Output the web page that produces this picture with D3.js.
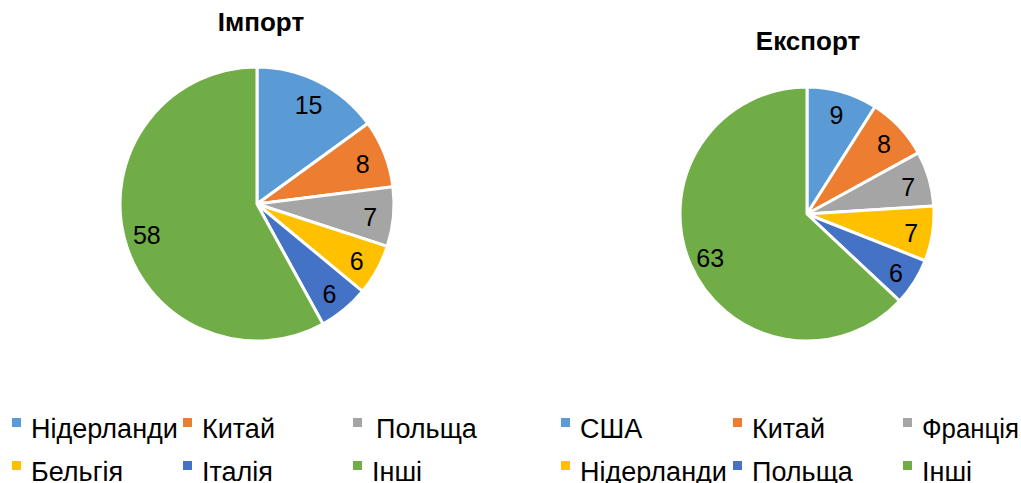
<!DOCTYPE html>
<html>
<head>
<meta charset="utf-8">
<script src="https://cdn.jsdelivr.net/npm/d3@7"></script>
<style>
  body { margin: 0; background: #fff; }
  svg text { font-family: "Liberation Sans", Arial, sans-serif; fill: #000; }
</style>
</head>
<body>
<svg width="1021" height="483"></svg>
<script>
// дані
var importNames = ["Нідерланди", "Китай", "Польща", "Бельгія", "Італія", "Інші"];
var importValues = [15, 8, 7, 6, 6, 58];
var exportNames = ["США", "Китай", "Франція", "Нідерланди", "Польща", "Інші"];
var exportValues = [9, 8, 7, 7, 6, 63];

var colors = ["#5B9BD5", "#ED7D31", "#A5A5A5", "#FFC000", "#4472C4", "#70AD47"];

var svg = d3.select("svg");

function drawPie(title, names, values, cx, cy, r, titleX, titleY, legendX, legendCols) {
    var g = svg.append("g").attr("transform", "translate(" + cx + "," + cy + ")");

    var pie = d3.pie().sort(null).value(function(d) { return d; });
    var arc = d3.arc().innerRadius(0).outerRadius(r);
    var labelArc = d3.arc().innerRadius(r * 0.83).outerRadius(r * 0.83);

    var arcs = pie(values);

    g.selectAll("path")
        .data(arcs)
        .enter().append("path")
        .attr("d", arc)
        .attr("fill", function(d, i) { return colors[i]; })
        .attr("stroke", "#fff")
        .attr("stroke-width", 3)
        .attr("stroke-linejoin", "round");

    g.selectAll("text.lbl")
        .data(arcs)
        .enter().append("text")
        .attr("class", "lbl")
        .attr("transform", function(d) { return "translate(" + labelArc.centroid(d) + ")"; })
        .attr("text-anchor", "middle")
        .attr("dy", "0.45em")
        .style("font-size", "25px")
        .text(function(d) { return d.data; });

    svg.append("text")
        .attr("x", titleX)
        .attr("y", titleY)
        .attr("text-anchor", "middle")
        .style("font-size", "26px")
        .style("font-weight", "bold")
        .text(title);

    // легенда
    var legend = svg.append("g").attr("class", "legend");
    var item = legend.selectAll("g")
        .data(names)
        .enter().append("g")
        .attr("transform", function(d, i) {
            return "translate(" + (legendX + legendCols[i % 3]) + "," + (438 + Math.floor(i / 3) * 43) + ")";
        });

    item.append("rect")
        .attr("x", 0)
        .attr("y", -20)
        .attr("width", 9)
        .attr("height", 9)
        .attr("fill", function(d, i) { return colors[i]; });

    item.append("text")
        .attr("x", function(d) { return d == "Польща" && title == "Імпорт" ? 23 : 19; })
        .style("font-size", "27px")
        .text(function(d) { return d; })
        .each(function() {
            // не виходити за правий край
            var box = this.getBBox();
            var left = this.getCTM().e + box.x;
            if (left + box.width > 1019) {
                d3.select(this)
                    .attr("textLength", 1019 - left)
                    .attr("lengthAdjust", "spacingAndGlyphs");
            }
        });
}

drawPie("Імпорт", importNames, importValues, 257, 204, 137, 261, 31, 12, [0, 171, 341]);
drawPie("Експорт", exportNames, exportValues, 807, 214, 127, 808, 50, 561, [0, 172, 342]);
</script>
</body>
</html>
